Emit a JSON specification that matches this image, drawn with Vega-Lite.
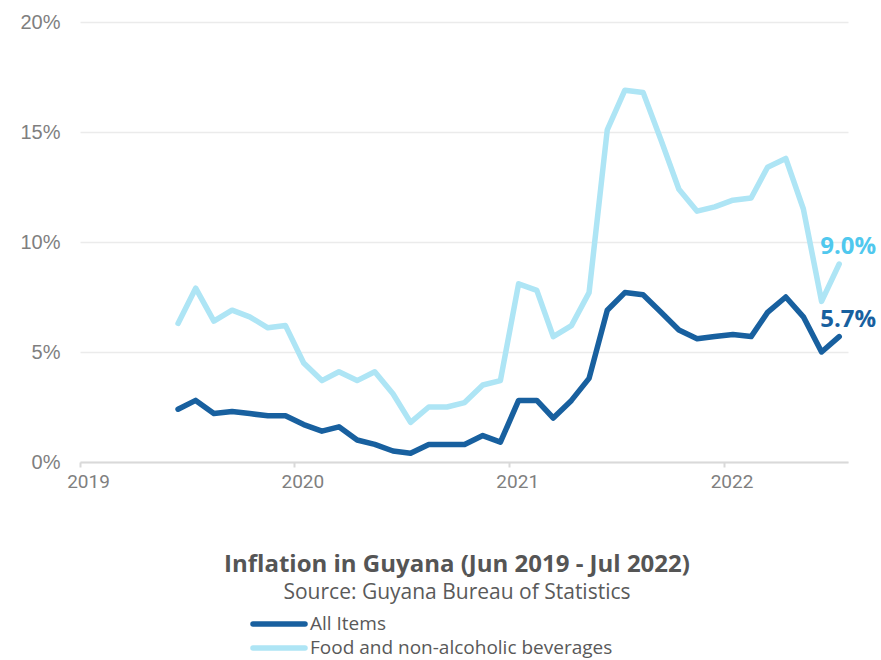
{
  "$schema": "https://vega.github.io/schema/vega-lite/v6.json",
  "width": 768,
  "height": 440,
  "autosize": "none",
  "padding": {"left": 80, "top": 22, "right": 33, "bottom": 198},
  "background": "white",
  "config": {"view": {"stroke": null}},
  "title": {
    "text": "Inflation in Guyana (Jun 2019 - Jul 2022)",
    "subtitle": "Source: Guyana Bureau of Statistics",
    "orient": "bottom",
    "anchor": "middle",
    "frame": "group",
    "offset": -105,
    "dx": -7,
    "font": "Open Sans",
    "fontSize": 24,
    "fontWeight": "bold",
    "color": "#555555",
    "subtitleFont": "Open Sans",
    "subtitleFontSize": 21,
    "subtitleColor": "#5a5a5a",
    "subtitlePadding": 5
  },
  "data": {
    "values": [
      {"date": "2019-06-17T00:00", "series": "All Items", "value": 0.024},
      {"date": "2019-07-17T00:00", "series": "All Items", "value": 0.028},
      {"date": "2019-08-17T00:00", "series": "All Items", "value": 0.022},
      {"date": "2019-09-17T00:00", "series": "All Items", "value": 0.023},
      {"date": "2019-10-17T00:00", "series": "All Items", "value": 0.022},
      {"date": "2019-11-17T00:00", "series": "All Items", "value": 0.021},
      {"date": "2019-12-17T00:00", "series": "All Items", "value": 0.021},
      {"date": "2020-01-17T00:00", "series": "All Items", "value": 0.017},
      {"date": "2020-02-17T00:00", "series": "All Items", "value": 0.014},
      {"date": "2020-03-17T00:00", "series": "All Items", "value": 0.016},
      {"date": "2020-04-17T00:00", "series": "All Items", "value": 0.010},
      {"date": "2020-05-17T00:00", "series": "All Items", "value": 0.008},
      {"date": "2020-06-17T00:00", "series": "All Items", "value": 0.005},
      {"date": "2020-07-17T00:00", "series": "All Items", "value": 0.004},
      {"date": "2020-08-17T00:00", "series": "All Items", "value": 0.008},
      {"date": "2020-09-17T00:00", "series": "All Items", "value": 0.008},
      {"date": "2020-10-17T00:00", "series": "All Items", "value": 0.008},
      {"date": "2020-11-17T00:00", "series": "All Items", "value": 0.012},
      {"date": "2020-12-17T00:00", "series": "All Items", "value": 0.009},
      {"date": "2021-01-17T00:00", "series": "All Items", "value": 0.028},
      {"date": "2021-02-17T00:00", "series": "All Items", "value": 0.028},
      {"date": "2021-03-17T00:00", "series": "All Items", "value": 0.020},
      {"date": "2021-04-17T00:00", "series": "All Items", "value": 0.028},
      {"date": "2021-05-17T00:00", "series": "All Items", "value": 0.038},
      {"date": "2021-06-17T00:00", "series": "All Items", "value": 0.069},
      {"date": "2021-07-17T00:00", "series": "All Items", "value": 0.077},
      {"date": "2021-08-17T00:00", "series": "All Items", "value": 0.076},
      {"date": "2021-09-17T00:00", "series": "All Items", "value": 0.068},
      {"date": "2021-10-17T00:00", "series": "All Items", "value": 0.060},
      {"date": "2021-11-17T00:00", "series": "All Items", "value": 0.056},
      {"date": "2021-12-17T00:00", "series": "All Items", "value": 0.057},
      {"date": "2022-01-17T00:00", "series": "All Items", "value": 0.058},
      {"date": "2022-02-17T00:00", "series": "All Items", "value": 0.057},
      {"date": "2022-03-17T00:00", "series": "All Items", "value": 0.068},
      {"date": "2022-04-17T00:00", "series": "All Items", "value": 0.075},
      {"date": "2022-05-17T00:00", "series": "All Items", "value": 0.066},
      {"date": "2022-06-17T00:00", "series": "All Items", "value": 0.050},
      {"date": "2022-07-17T00:00", "series": "All Items", "value": 0.057},
      {"date": "2019-06-17T00:00", "series": "Food and non-alcoholic beverages", "value": 0.063},
      {"date": "2019-07-17T00:00", "series": "Food and non-alcoholic beverages", "value": 0.079},
      {"date": "2019-08-17T00:00", "series": "Food and non-alcoholic beverages", "value": 0.064},
      {"date": "2019-09-17T00:00", "series": "Food and non-alcoholic beverages", "value": 0.069},
      {"date": "2019-10-17T00:00", "series": "Food and non-alcoholic beverages", "value": 0.066},
      {"date": "2019-11-17T00:00", "series": "Food and non-alcoholic beverages", "value": 0.061},
      {"date": "2019-12-17T00:00", "series": "Food and non-alcoholic beverages", "value": 0.062},
      {"date": "2020-01-17T00:00", "series": "Food and non-alcoholic beverages", "value": 0.045},
      {"date": "2020-02-17T00:00", "series": "Food and non-alcoholic beverages", "value": 0.037},
      {"date": "2020-03-17T00:00", "series": "Food and non-alcoholic beverages", "value": 0.041},
      {"date": "2020-04-17T00:00", "series": "Food and non-alcoholic beverages", "value": 0.037},
      {"date": "2020-05-17T00:00", "series": "Food and non-alcoholic beverages", "value": 0.041},
      {"date": "2020-06-17T00:00", "series": "Food and non-alcoholic beverages", "value": 0.031},
      {"date": "2020-07-17T00:00", "series": "Food and non-alcoholic beverages", "value": 0.018},
      {"date": "2020-08-17T00:00", "series": "Food and non-alcoholic beverages", "value": 0.025},
      {"date": "2020-09-17T00:00", "series": "Food and non-alcoholic beverages", "value": 0.025},
      {"date": "2020-10-17T00:00", "series": "Food and non-alcoholic beverages", "value": 0.027},
      {"date": "2020-11-17T00:00", "series": "Food and non-alcoholic beverages", "value": 0.035},
      {"date": "2020-12-17T00:00", "series": "Food and non-alcoholic beverages", "value": 0.037},
      {"date": "2021-01-17T00:00", "series": "Food and non-alcoholic beverages", "value": 0.081},
      {"date": "2021-02-17T00:00", "series": "Food and non-alcoholic beverages", "value": 0.078},
      {"date": "2021-03-17T00:00", "series": "Food and non-alcoholic beverages", "value": 0.057},
      {"date": "2021-04-17T00:00", "series": "Food and non-alcoholic beverages", "value": 0.062},
      {"date": "2021-05-17T00:00", "series": "Food and non-alcoholic beverages", "value": 0.077},
      {"date": "2021-06-17T00:00", "series": "Food and non-alcoholic beverages", "value": 0.151},
      {"date": "2021-07-17T00:00", "series": "Food and non-alcoholic beverages", "value": 0.169},
      {"date": "2021-08-17T00:00", "series": "Food and non-alcoholic beverages", "value": 0.168},
      {"date": "2021-09-17T00:00", "series": "Food and non-alcoholic beverages", "value": 0.146},
      {"date": "2021-10-17T00:00", "series": "Food and non-alcoholic beverages", "value": 0.124},
      {"date": "2021-11-17T00:00", "series": "Food and non-alcoholic beverages", "value": 0.114},
      {"date": "2021-12-17T00:00", "series": "Food and non-alcoholic beverages", "value": 0.116},
      {"date": "2022-01-17T00:00", "series": "Food and non-alcoholic beverages", "value": 0.119},
      {"date": "2022-02-17T00:00", "series": "Food and non-alcoholic beverages", "value": 0.120},
      {"date": "2022-03-17T00:00", "series": "Food and non-alcoholic beverages", "value": 0.134},
      {"date": "2022-04-17T00:00", "series": "Food and non-alcoholic beverages", "value": 0.138},
      {"date": "2022-05-17T00:00", "series": "Food and non-alcoholic beverages", "value": 0.115},
      {"date": "2022-06-17T00:00", "series": "Food and non-alcoholic beverages", "value": 0.073},
      {"date": "2022-07-17T00:00", "series": "Food and non-alcoholic beverages", "value": 0.090}
    ]
  },
  "layer": [
    {
      "mark": {"type": "line", "strokeWidth": 5.5, "strokeCap": "round", "strokeJoin": "round"},
      "encoding": {
        "x": {
          "field": "date",
          "type": "temporal",
          "scale": {"domain": [{"year": 2019, "month": 1, "date": 1}, {"year": 2022, "month": 8, "date": 1}]},
          "axis": {
            "title": null,
            "format": "%Y",
            "values": [{"year": 2019, "month": 1, "date": 1}, {"year": 2020, "month": 1, "date": 1}, {"year": 2021, "month": 1, "date": 1}, {"year": 2022, "month": 1, "date": 1}],
            "grid": false,
            "domainColor": "#d9d9d9",
            "domainWidth": 2,
            "tickColor": "#d9d9d9",
            "tickWidth": 2,
            "tickSize": 5,
            "labelFont": "Roboto",
            "labelFontSize": 19,
            "labelColor": "#7f7f7f",
            "labelPadding": 5,
            "labelOffset": 8,
            "labelFlush": false
          }
        },
        "y": {
          "field": "value",
          "type": "quantitative",
          "scale": {"domain": [0, 0.2]},
          "axis": {
            "title": null,
            "format": ".0%",
            "values": [0, 0.05, 0.1, 0.15, 0.2],
            "domain": false,
            "ticks": false,
            "tickSize": 0,
            "labelPadding": 20,
            "gridColor": "#ebebeb",
            "gridWidth": 1.5,
            "labelFont": "Liberation Sans",
            "labelFontSize": 20,
            "labelColor": "#7f7f7f"
          }
        },
        "color": {
          "field": "series",
          "type": "nominal",
          "scale": {"domain": ["All Items", "Food and non-alcoholic beverages"], "range": ["#18609f", "#aee5f5"]},
          "legend": {
            "title": null,
            "orient": "none",
            "legendX": 170,
            "legendY": 592,
            "direction": "vertical",
            "symbolType": "stroke",
            "symbolSize": 2704,
            "symbolStrokeWidth": 5.5,
            "labelFont": "Open Sans",
            "labelFontSize": 19,
            "labelColor": "#595959",
            "labelLimit": 600,
            "labelOffset": 2,
            "clipHeight": 20,
            "rowPadding": 4,
            "padding": 0,
            "encode": {"symbols": {"update": {"strokeCap": {"value": "round"}}}}
          }
        }
      }
    },
    {
      "transform": [{"filter": "month(datum.date) == 6 && year(datum.date) == 2022"}],
      "mark": {"type": "text", "align": "left", "baseline": "middle", "dx": -19, "dy": -17, "font": "Open Sans", "fontWeight": "bold", "fontSize": 24},
      "encoding": {
        "x": {"field": "date", "type": "temporal"},
        "y": {"field": "value", "type": "quantitative"},
        "text": {"field": "value", "type": "quantitative", "format": ".1%"},
        "color": {
          "field": "series",
          "type": "nominal",
          "scale": {"domain": ["All Items", "Food and non-alcoholic beverages"], "range": ["#18609f", "#50c8ee"]},
          "legend": null
        }
      }
    }
  ],
  "resolve": {"scale": {"color": "independent"}}
}
